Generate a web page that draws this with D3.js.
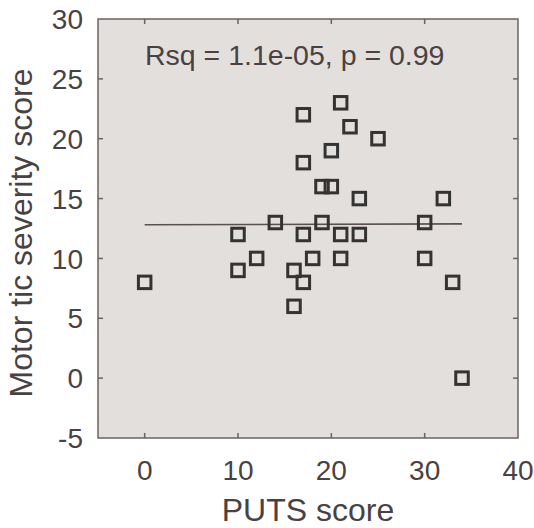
<!DOCTYPE html>
<html>
<head>
<meta charset="utf-8">
<script src="https://cdn.jsdelivr.net/npm/d3@7"></script>
<style>
  body { margin: 0; background: #fff; }
  text { font-family: "Liberation Sans", Arial, sans-serif; fill: #4a4242; }
</style>
</head>
<body>
<div id="chart"></div>
<script>
// PUTS score vs motor tic severity, one square per subject
var puts   = [21, 17, 22, 25, 20, 17, 19, 20, 23, 32, 14, 19, 30, 10, 17, 21, 23, 12, 18, 21, 30, 10, 16, 0, 17, 33, 16, 34]
var motor  = [23, 22, 21, 20, 19, 18, 16, 16, 15, 15, 13, 13, 13, 12, 12, 12, 12, 10, 10, 10, 10, 9, 9, 8, 8, 8, 6, 0]
var xTicks = [0, 10, 20, 30, 40]
var yTicks = [-5, 0, 5, 10, 15, 20, 25, 30]
var statLabel = "Rsq = 1.1e-05, p = 0.99"

var w = 534, h = 528
// plot box edges (window.top is reserved, so prefixed names)
var pL = 98, pR = 518, pT = 19, pB = 438

var svg = d3.select("#chart").append("svg")
  .attr("width", w)
  .attr("height", h)

var x = d3.scaleLinear().domain([-5, 40]).range([pL, pR])
var y = d3.scaleLinear().domain([-5, 30]).range([pB, pT])

var axisCol = "#6b6362"

svg.append("rect")
  .attr("x", pL).attr("y", pT)
  .attr("width", pR - pL).attr("height", pB - pT)
  .attr("fill", "#e3dfdc")
  .attr("stroke", axisCol)
  .attr("stroke-width", 1.5)

// inward ticks on all four sides
var tk = 5
var xIn = xTicks.filter(function(d){return d > -5 && d < 40})
var yIn = yTicks.filter(function(d){return d > -5 && d < 30})

svg.append("g").selectAll("line").data(xIn).join("line")
  .attr("x1", function(d){return x(d)}).attr("x2", function(d){return x(d)})
  .attr("y1", pB).attr("y2", pB - tk)
  .attr("stroke", axisCol).attr("stroke-width", 1.5)
svg.append("g").selectAll("line").data(xIn).join("line")
  .attr("x1", function(d){return x(d)}).attr("x2", function(d){return x(d)})
  .attr("y1", pT).attr("y2", pT + tk)
  .attr("stroke", axisCol).attr("stroke-width", 1.5)
svg.append("g").selectAll("line").data(yIn).join("line")
  .attr("x1", pL).attr("x2", pL + tk)
  .attr("y1", function(d){return y(d)}).attr("y2", function(d){return y(d)})
  .attr("stroke", axisCol).attr("stroke-width", 1.5)
svg.append("g").selectAll("line").data(yIn).join("line")
  .attr("x1", pR).attr("x2", pR - tk)
  .attr("y1", function(d){return y(d)}).attr("y2", function(d){return y(d)})
  .attr("stroke", axisCol).attr("stroke-width", 1.5)

// tick labels
svg.append("g").selectAll("text").data(xTicks).join("text")
  .attr("x", function(d){return x(d)})
  .attr("y", pB + 42)
  .attr("text-anchor", "middle")
  .style("font-size", "28px")
  .text(function(d){return d})

svg.append("g").selectAll("text").data(yTicks).join("text")
  .attr("x", pL - 15)
  .attr("y", function(d){return y(d)})
  .attr("dy", "0.36em")
  .attr("text-anchor", "end")
  .style("font-size", "28px")
  .text(function(d){return d})

// axis titles
svg.append("text")
  .attr("x", x(17.5))
  .attr("y", 521)
  .attr("text-anchor", "middle")
  .style("font-size", "32px")
  .text("PUTS score")

svg.append("text")
  .attr("transform", "translate(32,233) rotate(-90)")
  .attr("text-anchor", "middle")
  .style("font-size", "32px")
  .text("Motor tic severity score")

// least squares fit
var mx = d3.mean(puts), my = d3.mean(motor)
var sxy = d3.sum(puts, function(d, i){return (d - mx) * (motor[i] - my)})
var sxx = d3.sum(puts, function(d){return (d - mx) * (d - mx)})
var slope = sxy / sxx, icpt = my - slope * mx
var ext = d3.extent(puts)

svg.append("line")
  .attr("x1", x(ext[0])).attr("x2", x(ext[1]))
  .attr("y1", y(icpt + slope * ext[0])).attr("y2", y(icpt + slope * ext[1]))
  .attr("stroke", "#5a5050")
  .attr("stroke-width", 1.6)

// markers
var s = 12.5
svg.append("g").selectAll("rect").data(puts).join("rect")
  .attr("x", function(d){return x(d) - s / 2})
  .attr("y", function(d, i){return y(motor[i]) - s / 2})
  .attr("width", s).attr("height", s)
  .attr("fill", "none")
  .attr("stroke", "#333")
  .attr("stroke-width", 3)

svg.append("text")
  .attr("x", 145)
  .attr("y", 65)
  .style("font-size", "28.5px")
  .text(statLabel)
</script>
</body>
</html>
